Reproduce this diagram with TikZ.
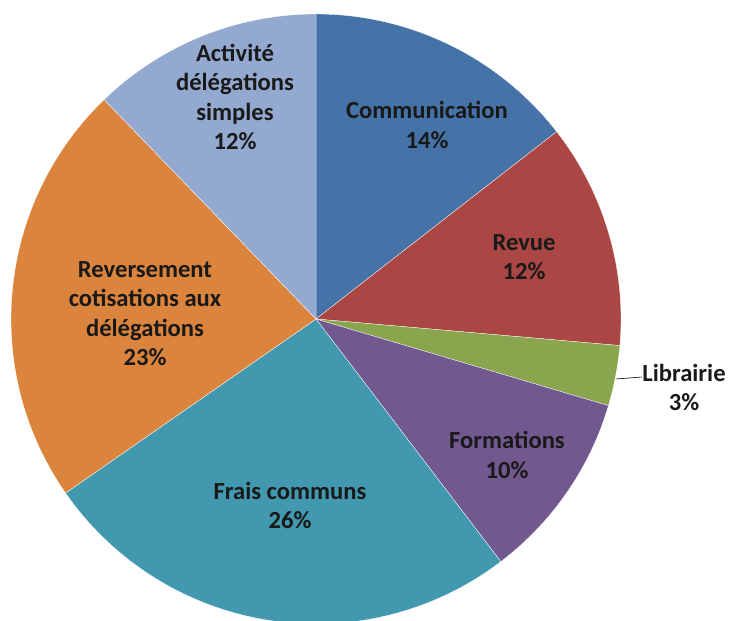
\documentclass[tikz,border=0pt]{standalone}
\usepackage{fontspec}
\usetikzlibrary{calc}
\setmainfont{Carlito}
\definecolor{cComm}{HTML}{4572A7}
\definecolor{cRev}{HTML}{AA4643}
\definecolor{cLib}{HTML}{89A54E}
\definecolor{cForm}{HTML}{71588F}
\definecolor{cFrais}{HTML}{4198AF}
\definecolor{cRever}{HTML}{DB843D}
\definecolor{cAct}{HTML}{93A9CF}
\tikzset{
  lbl/.style={align=center, font=\bfseries\fontsize{24.6}{29.5}\selectfont, inner sep=0pt, text=black!90},
  slice/.style={draw=white, line width=0.3pt}
}
\newcommand{\pieslice}[3]{%
  \filldraw[slice, fill=#3] (c) -- ++(#1:305) arc[start angle=#1, end angle=#2, radius=305] -- cycle;}
\begin{document}
\begin{tikzpicture}[x=1pt,y=1pt]
\useasboundingbox (0,0) rectangle (731,621);
\clip (0,0) rectangle (731,621);
\coordinate (c) at (316,302);
\pieslice{90}{37.9}{cComm}
\pieslice{37.9}{-5}{cRev}
\pieslice{-5}{-16.5}{cLib}
\pieslice{-16.5}{-52.7}{cForm}
\pieslice{-52.7}{-145.2}{cFrais}
\pieslice{-145.2}{-226}{cRever}
\pieslice{-226}{-270}{cAct}
\node[lbl] (comm) at (427,496) {Communication\\14\%};
\node[lbl] (rev) at (524,364) {Revue\\12\%};
\node[lbl] (lib) at (684,233.5) {Librairie\\3\%};
\node[lbl] (form) at (507,166) {Formations\\10\%};
\node[lbl] (frais) at (290,115.5) {Frais communs\\26\%};
\node[lbl] (rever) at (145,307.5) {Reversement\\cotisations aux\\délégations\\23\%};
\node[lbl] (act) at (235,524) {Activité\\délégations\\simples\\12\%};
\coordinate (le) at ($(c)+(-11.3:306)$);
\coordinate (lend) at (642,244);
\draw[black, line width=0.6pt] (le) -- (lend);
\end{tikzpicture}
\end{document}
